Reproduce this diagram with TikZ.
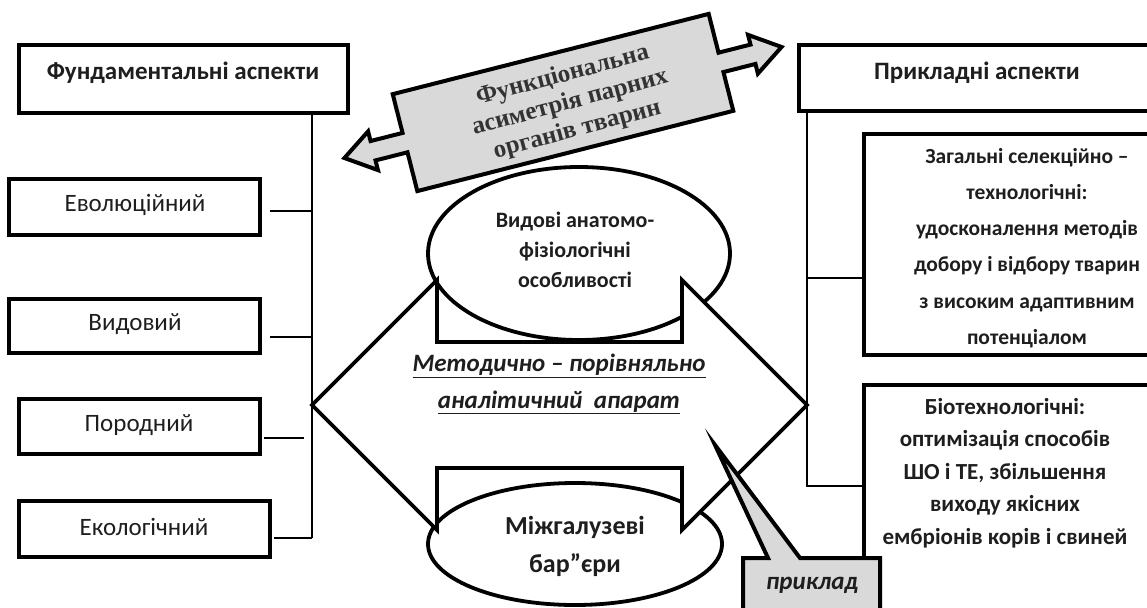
\documentclass[tikz,border=0pt]{standalone}
\usepackage{fontspec}
\setmainfont{Carlito}
\newfontfamily\bannerfont{Liberation Serif}
\usetikzlibrary{calc,shapes.geometric}
\definecolor{lgray}{HTML}{D9D9D9}
\definecolor{ink}{HTML}{1E1E1E}
\begin{document}
\begin{tikzpicture}[x=1pt,y=-1pt,
  box/.style={draw, line width=4pt, fill=white, inner sep=0pt, rectangle},
  conn/.style={draw, line width=1.3pt},
  thickln/.style={line width=3.8pt, line join=miter},
  lbl/.style={text=ink, inner sep=0pt, align=center},
  boxtxt/.style={lbl, font=\fontsize{25}{30}\selectfont},
  boldtxt/.style={lbl, font=\fontsize{25}{30}\selectfont\bfseries}
]
\useasboundingbox (0,0) rectangle (1147,607);
\clip (0,0) rectangle (1147,607);

% ---------- left column ----------
\node[box, minimum width=329pt, minimum height=68pt] (fund) at (183.5,79) {};
\node[boldtxt] (fundt) at (183,73) {Фундаментальні аспекти};

\node[box, minimum width=251pt, minimum height=56pt] (evo) at (134.5,207) {};
\node[boxtxt] (evot) at (135,205) {Еволюційний};
\node[box, minimum width=251pt, minimum height=54pt] (vid) at (134.5,326) {};
\node[boxtxt] (vidt) at (135,324) {Видовий};
\node[box, minimum width=241pt, minimum height=55pt] (por) at (139.5,426.5) {};
\node[boxtxt] (port) at (139,425) {Породний};
\node[box, minimum width=251pt, minimum height=56pt] (eko) at (144.5,529) {};
\node[boxtxt] (ekot) at (144,527) {Екологічний};

\coordinate (lsp) at (312,0);
\coordinate (ekoc) at ([xshift=2pt,yshift=-9pt]eko.east);
\draw[conn] (fund.south -| lsp) -- (ekoc -| lsp);
\draw[conn] ([xshift=8pt,yshift=-4pt]evo.east) -- ([yshift=-4pt]evo.east -| lsp);
\draw[conn] ([xshift=8pt,yshift=-11pt]vid.east) -- ([yshift=-11pt]vid.east -| lsp);
\coordinate (porc) at ([xshift=2pt,yshift=-11.5pt]por.east);
\draw[conn] (porc) -- ([xshift=-8pt]porc -| lsp);
\draw[conn] (ekoc) -- (ekoc -| lsp);

% ---------- right column ----------
\node[box, minimum width=371pt, minimum height=66pt] (pryk) at (984.5,78) {};
\node[boldtxt] (prykt) at (977,73) {Прикладні аспекти};

\node[box, minimum width=306pt, minimum height=221pt] (zag) at (1017,244.5) {};
\node[lbl, font=\fontsize{21.5}{36.3}\selectfont\bfseries] (zagt) at (1027,248)
  {Загальні селекційно –\\технологічні:\\удосконалення методів\\добору і відбору тварин\\з високим адаптивним\\потенціалом};

\node[box, minimum width=306pt, minimum height=275pt] (bio) at (1017,522.5) {};
\node[lbl, font=\fontsize{23}{32.5}\selectfont\bfseries] (biot) at (1005,473)
  {Біотехнологічні:\\оптимізація способів\\ШО і ТЕ, збільшення\\виходу якісних\\ембріонів корів і свиней};

\coordinate (rsp) at (807,0);
\coordinate (bioc) at ([yshift=36.5pt]bio.west);
\coordinate (zagc) at ([yshift=-33.5pt]zag.west);
\draw[conn] (pryk.south -| rsp) -- (bioc -| rsp) -- (bioc);
\draw[conn] (zagc -| rsp) -- (zagc);

% ---------- central ellipses and double arrow ----------
\node[draw, thickln, fill=white, ellipse, minimum width=302pt, minimum height=173pt, inner sep=0pt] (top) at (579,253.5) {};
\node[draw, thickln, fill=white, ellipse, minimum width=294pt, minimum height=122pt, inner sep=0pt] (bot) at (575,544) {};

\coordinate (Lt) at (312,405);
\coordinate (Rt) at (807,405);
\fill[white] (Lt) -- (437,280) -- (437,530) -- cycle;
\fill[white] (Rt) -- (682,280) -- (682,530) -- cycle;
\draw[thickln] (Lt) -- (437,280) -- (437,342) -- (682,342) -- (682,280) -- (Rt)
  -- (682,530) -- (682,468) -- (437,468) -- (437,530) -- cycle;

\node[lbl, font=\fontsize{22}{30}\selectfont\bfseries] (topt) at (575,250)
  {Видові анатомо-\\фізіологічні\\особливості};
\node[lbl, font=\fontsize{26}{38}\selectfont\bfseries] (bott) at (575,546)
  {Міжгалузеві\\бар”єри};
\node[lbl, font=\fontsize{25}{37}\selectfont\bfseries\itshape] (midt) at (559,384)
  {\underline{Методично – порівняльно}\\\underline{аналітичний\ \ апарат}};

% ---------- banner ----------
\begin{scope}[shift={(563,102.5)}, rotate=14.25]
  \draw[line width=4pt, fill=lgray, line join=miter]
    (-225.5,0) -- (-196,-20) -- (-196,-10) -- (-163,-10) -- (-163,-50)
    -- (163,-50) -- (163,-10) -- (196,-10) -- (196,-20) -- (225.5,0)
    -- (196,20) -- (196,10) -- (163,10) -- (163,50) -- (-163,50)
    -- (-163,10) -- (-196,10) -- (-196,20) -- cycle;
\end{scope}
\node[lbl, text=black!80, rotate=15, font=\bannerfont\fontsize{25}{28}\selectfont\bfseries] (bant) at (570,103)
  {Функціональна\\асиметрія парних\\органів тварин};

% ---------- callout ----------
\coordinate (ctip) at (715,445);
\draw[line width=4pt, fill=lgray, line join=miter]
  (743,558) -- (768,558) -- (ctip) -- (800,558) -- (880,558) -- (880,630) -- (743,630) -- cycle;
\node[lbl, font=\fontsize{25}{30}\selectfont\bfseries\itshape] (calt) at (812,585) {приклад};
\end{tikzpicture}
\end{document}
